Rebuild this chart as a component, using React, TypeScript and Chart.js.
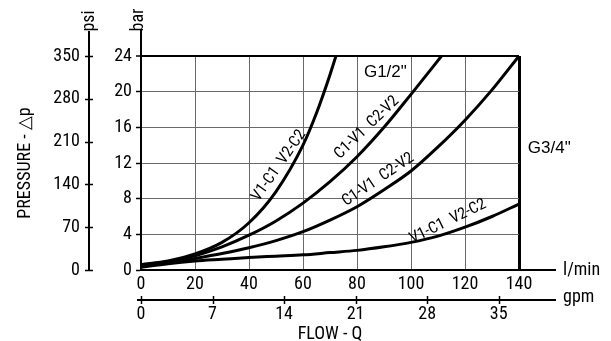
import React, { useEffect, useRef } from "react";
import { Chart, registerables } from "chart.js";
Chart.register(...registerables);

// ---- data ----
const flowTicksLpm = [0, 20, 40, 60, 80, 100, 120, 140];
const flowTicksGpm = [0, 7, 14, 21, 28, 35];
const pressureTicksBar = [0, 4, 8, 12, 16, 20, 24];
const pressureTicksPsi = [0, 70, 140, 210, 280, 350];

// G1/2" V1-C1 V2-C2 (steep)
const curveAFlow = [0, 10, 20, 30, 40, 50, 60, 65, 70, 72.2];
const curveAPress = [0.6, 1.0, 1.8, 3.1, 5.3, 8.8, 14.0, 17.6, 21.9, 24];
// G1/2" C1-V1 C2-V2
const curveBFlow = [0, 10, 20, 30, 40, 50, 60, 70, 80, 90, 100, 111.3];
const curveBPress = [0.5, 0.9, 1.6, 2.6, 3.9, 5.5, 7.5, 9.9, 12.7, 16.0, 19.7, 24];
// G3/4" C1-V1 C2-V2
const curveCFlow = [0, 10, 20, 30, 40, 50, 60, 70, 80, 90, 100, 110, 120, 130, 140];
const curveCPress = [0.4, 0.8, 1.3, 1.85, 2.5, 3.3, 4.3, 5.6, 7.1, 9.0, 11.1, 13.8, 16.8, 20.2, 24];
// G3/4" V1-C1 V2-C2
const curveDFlow = [0, 10, 20, 30, 40, 50, 60, 70, 80, 90, 100, 110, 120, 130, 140];
const curveDPress = [0.3, 0.7, 1.0, 1.2, 1.4, 1.55, 1.7, 1.95, 2.2, 2.6, 3.1, 3.8, 4.8, 6.0, 7.4];

const curveLabels = ["V1-C1  V2-C2", "C1-V1  C2-V2", "C1-V1  C2-V2", "V1-C1  V2-C2"];
const sizeLabels = ['G1/2"', 'G3/4"'];

// ---- annotation placement (data coordinates) ----
const curveLabelPos = [
  { q: 51.1, p: 11.7, a: -55 },
  { q: 83.6, p: 15.96, a: -44 },
  { q: 87.8, p: 10.12, a: -34 },
  { q: 113.7, p: 5.43, a: -26 },
];
const sizeLabelPos = [
  { q: 90.5, p: 22.2 },
  { q: 151.2, p: 13.6 },
];

const FONT = "'Roboto Condensed', 'Liberation Sans', Arial, sans-serif";

const pts = (xs: number[], ys: number[]) => xs.map((x, i) => ({ x, y: ys[i] }));

const ticksFrom = (arr: number[]) => (s: any) => {
  s.ticks = arr.map((v) => ({ value: v }));
};

const decor = {
  id: "decor",
  afterDraw(chart: any) {
    const ctx = chart.ctx as CanvasRenderingContext2D;
    const ca = chart.chartArea;
    const { x, y, x2, y2 } = chart.scales;
    const line = (a: number, b: number, c: number, d: number, w = 2) => {
      ctx.beginPath();
      ctx.lineWidth = w;
      ctx.moveTo(a, b);
      ctx.lineTo(c, d);
      ctx.stroke();
    };
    ctx.save();
    ctx.strokeStyle = "#000";
    ctx.fillStyle = "#000";
    // bar axis extension
    line(ca.left, ca.top, ca.left, ca.top - 27);
    // psi axis extension
    line(y2.right, ca.top, y2.right, ca.top - 25);
    // psi ticks crossing
    pressureTicksPsi.forEach((v) => {
      const py = Math.round(y2.getPixelForValue(v)) + 0.5;
      line(y2.right - 4, py, y2.right + 4, py, 1.5);
    });
    // l/min axis extension
    line(ca.right, ca.bottom, ca.right + 37, ca.bottom);
    // gpm axis line
    const gy = x2.top;
    line(x2.left - 4, gy, ca.right + 37, gy);
    flowTicksGpm.forEach((v) => {
      const px = Math.round(x2.getPixelForValue(v)) + 0.5;
      line(px, gy - 4, px, gy + 4, 1.5);
    });
    // unit labels
    ctx.font = `18px ${FONT}`;
    ctx.textAlign = "left";
    ctx.textBaseline = "middle";
    ctx.fillText("l/min", ca.right + 44, ca.bottom);
    ctx.fillText("gpm", ca.right + 44, gy - 3);
    const rot = (t: string, px: number, py: number, deg: number, font: string) => {
      ctx.save();
      ctx.translate(px, py);
      ctx.rotate((deg * Math.PI) / 180);
      ctx.font = font;
      ctx.textAlign = "center";
      ctx.textBaseline = "middle";
      ctx.fillText(t, 0, 0);
      ctx.restore();
    };
    rot("bar", ca.left - 3, ca.top - 36, -90, `18px ${FONT}`);
    rot("psi", y2.right, ca.top - 35, -90, `18px ${FONT}`);
    curveLabels.forEach((t, i) => {
      const p = curveLabelPos[i];
      rot(t, x.getPixelForValue(p.q), y.getPixelForValue(p.p), p.a, `16px ${FONT}`);
    });
    sizeLabels.forEach((t, i) => {
      const p = sizeLabelPos[i];
      rot(t, x.getPixelForValue(p.q), y.getPixelForValue(p.p), 0, `17px 'Liberation Sans', Arial, sans-serif`);
    });
    ctx.restore();
  },
};

export default function App() {
  const ref = useRef<HTMLCanvasElement>(null);
  useEffect(() => {
    if (!ref.current) return;
    const ds = (d: any[]) => ({
      data: d,
      borderColor: "#000",
      borderWidth: 3,
      pointRadius: 0,
      fill: false,
      cubicInterpolationMode: "monotone" as const,
      xAxisID: "x",
      yAxisID: "y",
    });
    const tickFont = { family: FONT, size: 18 };
    const chart = new Chart(ref.current, {
      type: "line",
      data: {
        datasets: [
          ds(pts(curveAFlow, curveAPress)),
          ds(pts(curveBFlow, curveBPress)),
          ds(pts(curveCFlow, curveCPress)),
          ds(pts(curveDFlow, curveDPress)),
        ],
      },
      options: {
        animation: false,
        responsive: false,
        devicePixelRatio: 1,
        events: [],
        layout: { padding: { top: 56, right: 92, left: 0, bottom: 0 }, autoPadding: false },
        plugins: { legend: { display: false }, tooltip: { enabled: false }, title: { display: false } },
        scales: {
          x: {
            type: "linear",
            position: "bottom",
            weight: 0,
            min: 0,
            max: 140,
            afterBuildTicks: ticksFrom(flowTicksLpm),
            afterFit: (s: any) => { s.height = 30; },
            grid: {
              drawTicks: false,
              color: (c: any) => (c.tick && c.tick.value === 140 ? "#000" : "#6a6a6a"),
              lineWidth: (c: any) => (c.tick && c.tick.value === 140 ? 3 : 1),
            },
            border: { color: "#000", width: 2 },
            ticks: { font: tickFont, color: "#000", padding: 4, maxRotation: 0 },
          },
          x2: {
            type: "linear",
            position: "bottom",
            weight: 1,
            min: 0,
            max: 140 / 3.785,
            afterBuildTicks: ticksFrom(flowTicksGpm),
            afterFit: (s: any) => { s.height = 41; },
            grid: { drawOnChartArea: false, drawTicks: false },
            border: { display: false },
            ticks: { font: tickFont, color: "#000", padding: 4, maxRotation: 0 },
            title: { display: true, text: "FLOW - Q", font: tickFont, color: "#000", padding: { top: 0, bottom: -4 } },
          },
          y: {
            type: "linear",
            position: "left",
            weight: 0,
            min: 0,
            max: 24,
            afterBuildTicks: ticksFrom(pressureTicksBar),
            afterFit: (s: any) => { s.width = 52; },
            grid: {
              drawTicks: true,
              tickLength: 5,
              tickColor: "#000",
              tickWidth: 1.5,
              color: (c: any) => (c.tick && c.tick.value === 24 ? "#000" : "#6a6a6a"),
              lineWidth: (c: any) => (c.tick && c.tick.value === 24 ? 2 : 1),
            },
            border: { color: "#000", width: 2 },
            ticks: { font: tickFont, color: "#000", padding: 4 },
          },
          y2: {
            type: "linear",
            position: "left",
            weight: 1,
            min: 0,
            max: 350,
            afterBuildTicks: ticksFrom(pressureTicksPsi),
            afterFit: (s: any) => { s.width = 89; },
            grid: { drawOnChartArea: false, drawTicks: false },
            border: { color: "#000", width: 2 },
            ticks: { font: tickFont, color: "#000", padding: 9 },
            title: { display: true, text: "PRESSURE - △p", font: tickFont, color: "#000", padding: { top: 15, bottom: 0 } },
          },
        },
      },
      plugins: [decor],
    } as any);
    return () => chart.destroy();
  }, []);
  return (
    <div style={{ position: "absolute", left: 0, top: 0, width: 611, height: 341, background: "#fff" }}>
      <canvas ref={ref} width={611} height={341} style={{ display: "block", width: 611, height: 341 }} />
    </div>
  );
}
